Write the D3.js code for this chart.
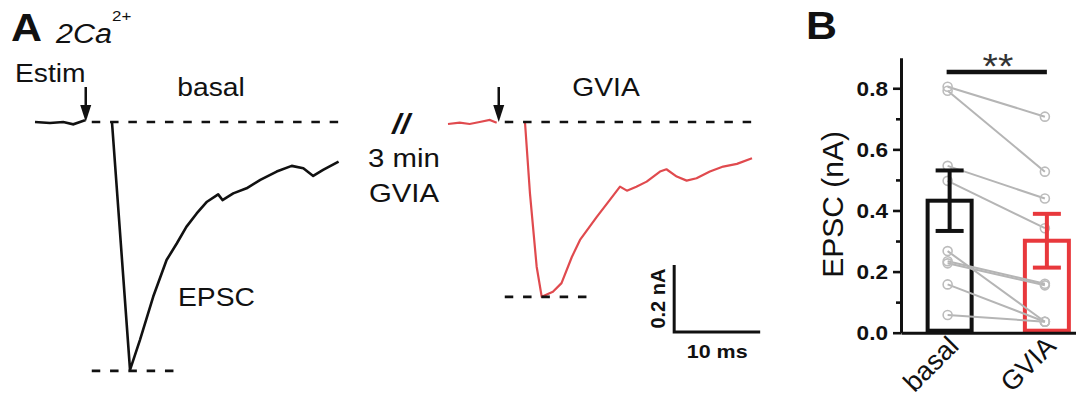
<!DOCTYPE html>
<html>
<head>
<meta charset="utf-8">
<script src="https://cdn.jsdelivr.net/npm/d3@7"></script>
<style>
  body { margin: 0; background: #fff; }
  svg { display: block; font-family: "Liberation Sans", Arial, sans-serif; }
</style>
</head>
<body>
<svg id="fig" width="1076" height="403"></svg>
<script>
// traces: time (ms) and current (nA)
const basalPreT = [0, 1.74, 3.29, 4.45, 5.23, 5.81];
const basalPreI = [0, -0.003, 0, -0.007, 0, 0.005];
const basalT = [8.95, 11.05, 12.2, 13.75, 15.3, 16.5, 17.6, 18.8, 20.0, 21.3, 21.8, 23.05, 24.6, 26.2, 28.1, 29.85, 31.2, 32.35, 33.5, 35.3];
const basalI = [0, -0.740, -0.651, -0.521, -0.412, -0.362, -0.313, -0.273, -0.238, -0.216, -0.233, -0.213, -0.198, -0.173, -0.148, -0.131, -0.138, -0.161, -0.143, -0.118];
const gviaPreT = [0, 1.36, 2.52, 3.68, 4.85, 5.66];
const gviaPreI = [-0.006, -0.002, -0.006, 0, 0.006, -0.002];
const gviaT = [8.95, 9.53, 10.31, 10.9, 12.2, 13.2, 14.4, 15.35, 17.3, 18.8, 20.0, 20.8, 21.9, 23.1, 24.65, 25.4, 26.6, 27.75, 28.9, 30.45, 32.0, 33.6, 35.35];
const gviaI = [0, -0.213, -0.432, -0.522, -0.507, -0.481, -0.403, -0.352, -0.283, -0.233, -0.193, -0.205, -0.193, -0.178, -0.148, -0.141, -0.163, -0.175, -0.168, -0.148, -0.133, -0.125, -0.108];
const stimT = 5.9;
const peaks = [-0.743, -0.522];
const scaleBarI = 0.2, scaleBarT = 10;

// panel B
const groups = ["basal", "GVIA"];
const means = [0.432, 0.301];
const sems = [0.099, 0.088];
const basalCells = [0.805, 0.792, 0.546, 0.497, 0.267, 0.234, 0.227, 0.158, 0.058];
const gviaCells = [0.707, 0.527, 0.439, 0.342, 0.036, 0.160, 0.155, 0.036, 0.036];
const yTicks = [0, 0.2, 0.4, 0.6, 0.8];
const yMinor = [0.1, 0.3, 0.5, 0.7];

const svg = d3.select("#fig");
const red = "#e8383c";
const SX = 1.13;

const label = (g, x, y, s, size, opts = {}) => {
    return g.append("text")
        .attr("transform", `translate(${x},${y}) scale(${SX},1)`)
        .attr("font-size", size)
        .attr("font-weight", opts.bold ? "bold" : null)
        .attr("font-style", opts.italic ? "italic" : null)
        .attr("text-anchor", opts.anchor || "start")
        .attr("fill", opts.fill || "#111")
        .text(s);
};

// ---- panel A ----
const t = d3.scaleLinear().domain([0, 40]).range([0, 344]);
const cur = d3.scaleLinear().domain([0, -1]).range([0, 335]);
const line = d3.line().x(d => t(d[0])).y(d => cur(d[1]));

const drawTrace = (x0, preT, preI, T, I, peak, color, w) => {
    const g = svg.append("g").attr("transform", `translate(${x0},122)`);
    g.append("path").attr("d", line(d3.zip(preT, preI)))
        .attr("fill", "none").attr("stroke", color).attr("stroke-width", w);
    g.append("path").attr("d", line(d3.zip(T, I)))
        .attr("fill", "none").attr("stroke", color).attr("stroke-width", w)
        .attr("stroke-linejoin", "round");
    // dashed baseline and peak level
    g.append("line").attr("x1", t(6.6)).attr("x2", t(36)).attr("y1", cur(0)).attr("y2", cur(0))
        .attr("stroke", "#111").attr("stroke-width", 2.6).attr("stroke-dasharray", "8.5,9.8");
    g.append("line").attr("x1", t(6.6)).attr("x2", t(16.3)).attr("y1", cur(peak)).attr("y2", cur(peak))
        .attr("stroke", "#111").attr("stroke-width", 2.6).attr("stroke-dasharray", "8.5,9.8");
    // stimulus arrow
    const ax = t(stimT);
    g.append("line").attr("x1", ax).attr("x2", ax).attr("y1", -35).attr("y2", -14)
        .attr("stroke", "#111").attr("stroke-width", 2.5);
    g.append("path").attr("d", `M${ax - 5.5},-17 L${ax + 5.5},-17 L${ax},0 Z`).attr("fill", "#111");
    return g;
};

drawTrace(35, basalPreT, basalPreI, basalT, basalI, peaks[0], "#111", 2.6);
const gB = drawTrace(448, gviaPreT, gviaPreI, gviaT, gviaI, peaks[1], "#e04a4e", 2.2);

// scale bar
const sbx = t(26.3), sby = cur(-0.627);
gB.append("path")
    .attr("d", `M${sbx},${sby - (cur(-scaleBarI) - cur(0))} L${sbx},${sby} L${sbx + t(scaleBarT)},${sby}`)
    .attr("fill", "none").attr("stroke", "#111").attr("stroke-width", 3);
label(gB, sbx + t(scaleBarT) / 2, sby + 26, "10 ms", 19, { bold: true, anchor: "middle" });
gB.append("text")
    .attr("transform", `translate(${sbx - 9},${sby - (cur(-scaleBarI) - cur(0)) / 2}) rotate(-90)`)
    .attr("font-size", 20).attr("font-weight", "bold").attr("text-anchor", "middle")
    .attr("fill", "#111").text("0.2 nA");

// texts panel A
label(svg, 11, 41, "A", 38, { bold: true });
label(svg, 56, 43, "2Ca", 27, { italic: true });
label(svg, 112, 21, "2+", 15, {});
label(svg, 15, 82, "Estim", 25);
label(svg, 211, 96, "basal", 25, { anchor: "middle" });
label(svg, 606, 96, "GVIA", 25, { anchor: "middle" });
label(svg, 401, 133, "//", 28, { italic: true, bold: true, anchor: "middle" });
label(svg, 404, 167, "3 min", 26, { anchor: "middle" });
label(svg, 404, 202, "GVIA", 26, { anchor: "middle" });
label(svg, 178, 306, "EPSC", 25);

// ---- panel B ----
label(svg, 806, 39, "B", 38, { bold: true });

const x = d3.scalePoint().domain(groups).range([901, 1095.5]).padding(0.5);
const y = d3.scaleLinear().domain([0, 0.9]).range([332.7, 57.7]);
const bw = 44;

const yAxis = svg.append("g").attr("transform", "translate(901,0)")
    .call(d3.axisLeft(y).tickValues(yTicks).tickFormat(d3.format(".1f")).tickSize(8).tickSizeOuter(0).tickPadding(5));
yAxis.select(".domain").attr("stroke-width", 3).attr("stroke", "#111");
yAxis.selectAll(".tick line").attr("stroke-width", 2.6).attr("stroke", "#111");
yAxis.selectAll(".tick text").attr("font-size", 20).attr("font-weight", "bold").attr("fill", "#111")
    .attr("font-family", "Liberation Sans, Arial, sans-serif")
    .attr("transform", `scale(${SX},1)`).attr("x", -13 / SX).attr("dy", "0.36em");
svg.append("g").attr("transform", "translate(901,0)")
    .call(d3.axisLeft(y).tickValues(yMinor).tickFormat("").tickSize(5).tickSizeOuter(0))
    .call(g => g.select(".domain").remove())
    .selectAll(".tick line").attr("stroke-width", 2.6).attr("stroke", "#111");

svg.append("text")
    .attr("transform", `translate(843,${y(0.42)}) rotate(-90)`)
    .attr("font-size", 30).attr("text-anchor", "middle").attr("fill", "#111")
    .text("EPSC (nA)");

// bars
const colors = ["#111", red];
svg.selectAll("rect.bar").data(groups).join("rect").attr("class", "bar")
    .attr("x", d => x(d) - bw / 2).attr("width", bw)
    .attr("y", (d, i) => y(means[i])).attr("height", (d, i) => y(0) - y(means[i]) - 2)
    .attr("fill", "#fff").attr("stroke", (d, i) => colors[i]).attr("stroke-width", 4);

// paired cells
const pairs = d3.zip(basalCells, gviaCells);
const cx = g => x(g) - 2;
svg.selectAll("line.pair").data(pairs).join("line").attr("class", "pair")
    .attr("x1", cx("basal")).attr("x2", cx("GVIA"))
    .attr("y1", d => y(d[0])).attr("y2", d => y(d[1]))
    .attr("stroke", "#b5b5b5").attr("stroke-width", 2);
groups.forEach((gname, gi) => {
    svg.selectAll(`circle.c${gi}`).data(gi === 0 ? basalCells : gviaCells).join("circle")
        .attr("class", `c${gi}`)
        .attr("cx", cx(gname)).attr("cy", d => y(d)).attr("r", 4.5)
        .attr("fill", "none").attr("stroke", "#bcbcbc").attr("stroke-width", 1.6);
});

// error bars
groups.forEach((gname, i) => {
    const c = x(gname), col = colors[i];
    const eg = svg.append("g").attr("stroke", col).attr("stroke-width", 4);
    eg.append("line").attr("x1", c).attr("x2", c).attr("y1", y(means[i] + sems[i])).attr("y2", y(means[i] - sems[i]));
    eg.append("line").attr("x1", c - 14).attr("x2", c + 14).attr("y1", y(means[i] + sems[i])).attr("y2", y(means[i] + sems[i]));
    eg.append("line").attr("x1", c - 14).attr("x2", c + 14).attr("y1", y(means[i] - sems[i])).attr("y2", y(means[i] - sems[i]));
});

// x axis
const xAxis = svg.append("g").attr("transform", `translate(0,${y(0)})`)
    .call(d3.axisBottom(x).tickSize(0).tickSizeOuter(0));
xAxis.select(".domain").attr("stroke-width", 3).attr("stroke", "#111");
xAxis.selectAll(".tick text")
    .attr("font-size", 27).attr("fill", "#111")
    .attr("font-family", "Liberation Sans, Arial, sans-serif")
    .attr("text-anchor", "end").attr("dy", 0).attr("y", 0)
    .attr("transform", "translate(10,15) rotate(-45)");

// significance
svg.append("line").attr("x1", x("basal") - 3).attr("x2", x("GVIA")).attr("y1", 72).attr("y2", 72)
    .attr("stroke", "#111").attr("stroke-width", 4.5);
label(svg, 998, 78, "**", 35, { anchor: "middle", fill: "#333" });
</script>
</body>
</html>
